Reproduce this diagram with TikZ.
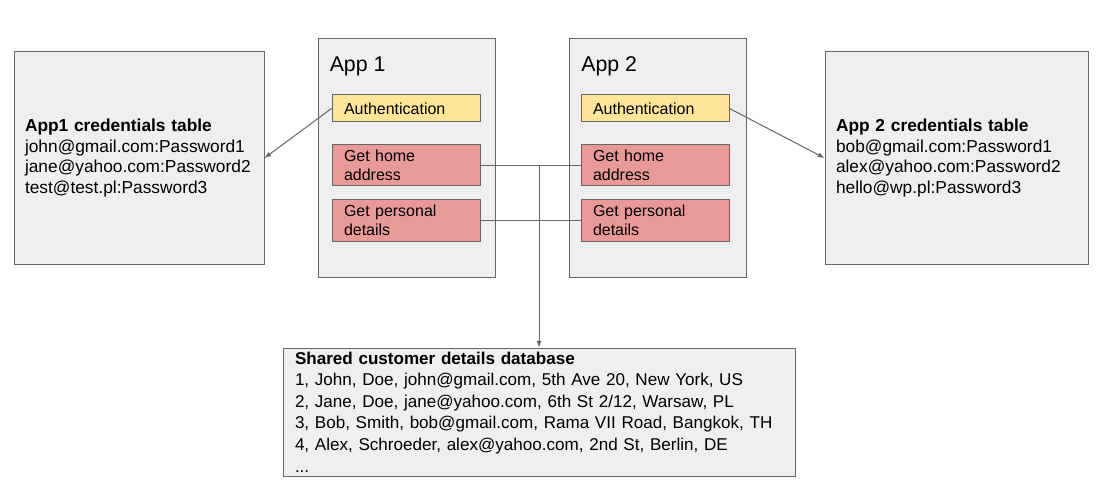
\documentclass[tikz,border=0pt]{standalone}
\usepackage{fontspec}
\setmainfont{Liberation Sans}
\definecolor{boxgrey}{HTML}{EFEFEF}
\definecolor{linegrey}{HTML}{666666}
\definecolor{authyellow}{HTML}{FFE599}
\definecolor{callred}{HTML}{EA9999}
\tikzset{
  tablebox/.style={draw=linegrey,fill=boxgrey,line width=0.75pt,align=left,inner xsep=8.25pt,minimum height=159pt,font=\fontsize{13}{15.6}\selectfont},
  appbox/.style={draw=linegrey,fill=boxgrey,line width=0.75pt,minimum width=132.75pt,minimum height=178.5pt},
  apptitle/.style={anchor=base west,inner sep=0pt,font=\fontsize{16}{19}\selectfont},
  authbox/.style={draw=linegrey,fill=authyellow,line width=0.75pt,align=left,text width=93pt,inner xsep=9pt,inner ysep=1pt,minimum height=20.25pt,font=\fontsize{12}{14}\selectfont},
  callbox/.style={authbox,fill=callred,minimum height=31pt},
  dbbox/.style={tablebox,text width=366pt,inner xsep=9pt,inner ysep=1pt,minimum height=96pt,font=\fontsize{12.8}{16.2}\selectfont},
  link/.style={draw=linegrey,line width=0.75pt}
}
\begin{document}
\begin{tikzpicture}[x=0.75pt,y=-0.75pt,>=latex]
\useasboundingbox (0,0) rectangle (1110,499);
% credentials tables
\node[tablebox,text width=171pt](CRED1) at (139,158){\textbf{App1 credentials table}\\john@gmail.com:Password1\\jane@yahoo.com:Password2\\test@test.pl:Password3};
\node[tablebox,text width=180.75pt](CRED2) at (956.5,158){\textbf{App 2 credentials table}\\bob@gmail.com:Password1\\alex@yahoo.com:Password2\\hello@wp.pl:Password3};
% app 1
\node[appbox](APP1) at (406.5,158){};
\node[apptitle](TITLE1) at ([xshift=9pt,yshift=-24.75pt]APP1.north west){App 1};
\node[authbox](AUTH1) at (406,108.5){Authentication};
\node[callbox,below of = AUTH1,yshift=-14pt](HOME1){Get home\\address};
\node[callbox,below of = HOME1,yshift=-13pt](PERS1){Get personal\\details};
% app 2
\node[appbox](APP2) at (658,158){};
\node[apptitle](TITLE2) at ([xshift=9pt,yshift=-24.75pt]APP2.north west){App 2};
\node[authbox](AUTH2) at (655,108.5){Authentication};
\node[callbox,below of = AUTH2,yshift=-14pt](HOME2){Get home\\address};
\node[callbox,below of = HOME2,yshift=-13pt](PERS2){Get personal\\details};
% shared database
\node[dbbox](DB) at (539,412){\textbf{Shared customer details database}\\1, John, Doe, john@gmail.com, 5th Ave 20, New York, US\\2, Jane, Doe, jane@yahoo.com, 6th St 2/12, Warsaw, PL\\3, Bob, Smith, bob@gmail.com, Rama VII Road, Bangkok, TH\\4, Alex, Schroeder, alex@yahoo.com, 2nd St, Berlin, DE\\...};
\coordinate (JOIN) at (HOME1.east -| DB.north);
\draw[link](HOME1.east) -- (HOME2.west);
\draw[link](PERS1.east) -- (PERS2.west);
\draw[link,->](JOIN) -- (DB.north);
\draw[link,->](AUTH1.west) -- (CRED1.east);
\draw[link,->](AUTH2.east) -- (CRED2.west);
\end{tikzpicture}
\end{document}
